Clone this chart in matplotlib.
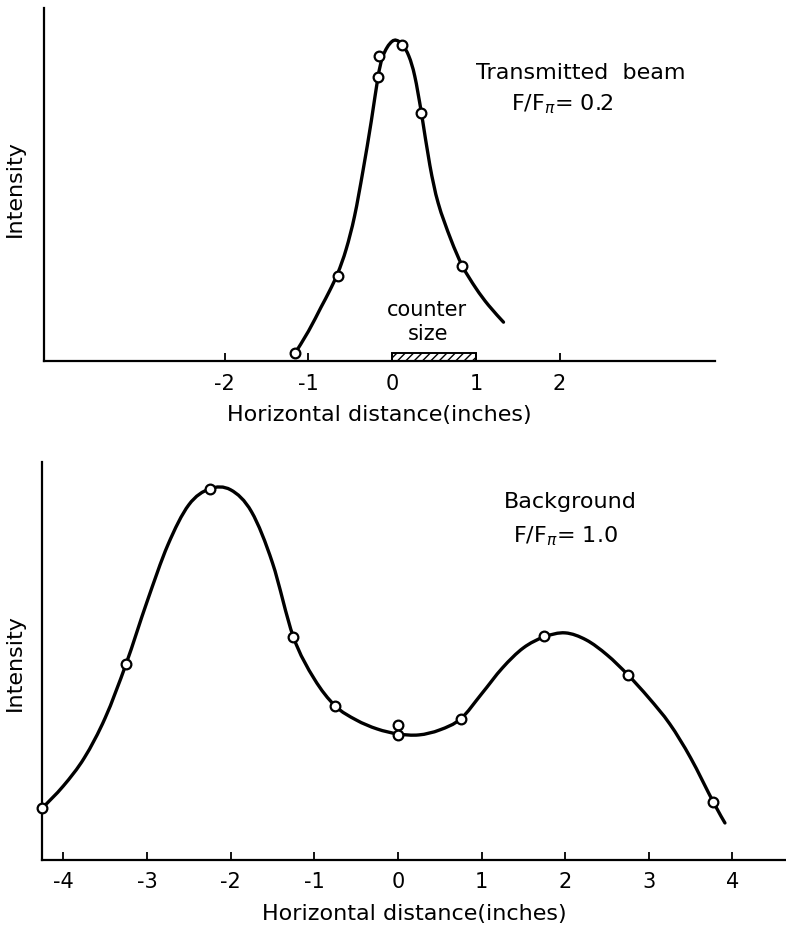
import matplotlib
matplotlib.use("Agg")
import matplotlib.pyplot as plt
from matplotlib.path import Path
from matplotlib.patches import PathPatch

# --- transmitted beam (F/Fpi = 0.2) ---
beam_x = [-1.16, -0.65, -0.17, -0.16, 0.12, 0.35, 0.84]
beam_i = [8, 85, 284, 305, 316, 248, 95]
# hand-drawn curve
beam_curve_x = [-1.16, -1.0, -0.85, -0.75, -0.65, -0.55, -0.45, -0.35, -0.25, -0.17,
                -0.12, -0.06, 0.0, 0.05, 0.12, 0.20, 0.27, 0.35, 0.45, 0.55,
                0.70, 0.84, 1.0, 1.15, 1.33]
beam_curve_i = [8, 30, 54, 70, 88, 112, 145, 190, 240, 284,
                303, 314, 320, 321, 317, 305, 285, 248, 196, 158,
                122, 95, 73, 56, 39]
counter_start, counter_width, counter_height = 0, 1, 8

# --- background (F/Fpi = 1.0) ---
bg_x = [-4.25, -3.25, -2.25, -1.25, -0.75, 0, 0, 0.75, 1.75, 2.75, 3.77]
bg_i = [52, 196, 371, 223, 154, 135, 125, 141, 224, 185, 58]
bg_curve_x = [-4.25, -4.0, -3.75, -3.5, -3.25, -3.0, -2.75, -2.5, -2.25, -2.0,
              -1.75, -1.5, -1.25, -1.0, -0.75, -0.5, -0.25, 0.0, 0.25, 0.5,
              0.75, 1.0, 1.25, 1.5, 1.75, 2.0, 2.25, 2.5, 2.75, 3.0,
              3.25, 3.5, 3.77, 3.91]
bg_curve_i = [52, 74, 102, 142, 196, 258, 315, 355, 371, 370,
              348, 297, 223, 181, 154, 140, 131, 126, 125, 130,
              141, 166, 192, 212, 223, 227, 220, 205, 185, 162,
              136, 102, 58, 37]

top_ticks = [-2, -1, 0, 1, 2]
bottom_ticks = [-4, -3, -2, -1, 0, 1, 2, 3, 4]

fig = plt.figure(figsize=(7.86, 9.26), dpi=100)


def smooth_stroke(ax, xs, ys):
    # draw the traced curve as a smooth bezier path through the traced points
    pts = list(zip(xs, ys))
    n = len(pts)
    verts = [pts[0]]
    codes = [Path.MOVETO]
    for i in range(n - 1):
        p0 = pts[max(i - 1, 0)]
        p1 = pts[i]
        p2 = pts[i + 1]
        p3 = pts[min(i + 2, n - 1)]
        c1 = (p1[0] + (p2[0] - p0[0]) / 6, p1[1] + (p2[1] - p0[1]) / 6)
        c2 = (p2[0] - (p3[0] - p1[0]) / 6, p2[1] - (p3[1] - p1[1]) / 6)
        verts += [c1, c2, p2]
        codes += [Path.CURVE4] * 3
    ax.add_patch(PathPatch(Path(verts, codes), fill=False, lw=2.4,
                           edgecolor='black', capstyle='round'))


def style(ax, ticks):
    for s in ['top', 'right']:
        ax.spines[s].set_visible(False)
    for s in ['left', 'bottom']:
        ax.spines[s].set_linewidth(1.6)
    ax.set_xticks(ticks)
    ax.set_xticklabels([str(t) for t in ticks], fontsize=15)
    ax.tick_params(axis='x', direction='in', length=6, width=1.3, pad=9)
    ax.set_yticks([])
    ax.set_ylabel('Intensity', fontsize=16)
    ax.set_xlabel('Horizontal distance(inches)', fontsize=16, labelpad=8)


# top panel
ax1 = fig.add_axes([0.056, 0.610, 0.854, 0.381])
smooth_stroke(ax1, beam_curve_x, beam_curve_i)
ax1.plot(beam_x, beam_i, 'o', ms=7, mfc='white', mec='black', mew=1.6, zorder=3)
ax1.bar(counter_start, counter_height, width=counter_width, align='edge',
        facecolor='white', edgecolor='black', hatch='////', lw=1.4)
ax1.text(0.42, 51, 'counter', ha='center', va='center', fontsize=15)
ax1.text(0.43, 27, 'size', ha='center', va='center', fontsize=15)
ax1.text(2.25, 288, 'Transmitted  beam', ha='center', va='center', fontsize=16)
ax1.text(2.03, 257, r'F/F$_{\pi}$= 0.2', ha='center', va='center', fontsize=16)
ax1.set_xlim(-4.16, 3.86)
ax1.set_ylim(0, 353)
style(ax1, top_ticks)
ax1.yaxis.set_label_coords(-0.028, 0.49)

# bottom panel
ax2 = fig.add_axes([0.054, 0.0713, 0.946, 0.430])
smooth_stroke(ax2, bg_curve_x, bg_curve_i)
ax2.plot(bg_x, bg_i, 'o', ms=7, mfc='white', mec='black', mew=1.6, clip_on=False, zorder=3)
ax2.text(2.06, 358, 'Background', ha='center', va='center', fontsize=16)
ax2.text(2.0, 324, r'F/F$_{\pi}$= 1.0', ha='center', va='center', fontsize=16)
ax2.set_xlim(-4.25, 4.64)
ax2.set_ylim(0, 398)
style(ax2, bottom_ticks)
ax2.yaxis.set_label_coords(-0.024, 0.495)

fig.savefig('out.png', dpi=100, facecolor='white')
